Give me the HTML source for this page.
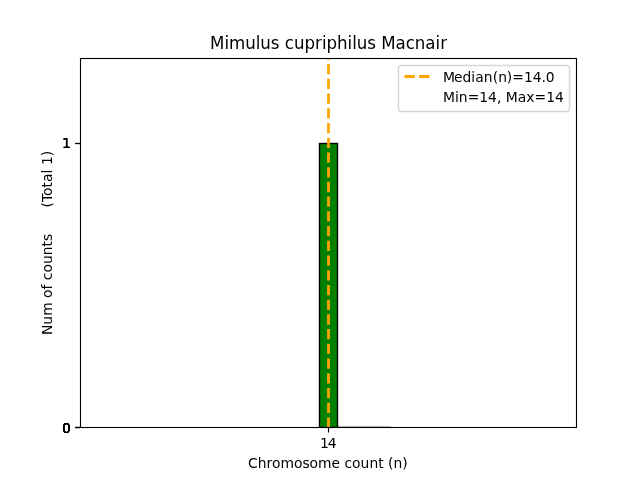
<!DOCTYPE html>
<html>
<head>
<meta charset="utf-8">
<title>Mimulus cupriphilus Macnair</title>
<style>
html,body{margin:0;padding:0;background:#fff;}
body{width:640px;height:480px;overflow:hidden;}
svg{display:block;}
text{font-family:"DejaVu Sans","Liberation Sans",sans-serif;fill:#000;white-space:pre;}
.t10{font-size:13.889px;}
.t12{font-size:16.667px;}
</style>
</head>
<body>
<svg width="640" height="480" viewBox="0 0 640 480">
<rect x="0" y="0" width="640" height="480" fill="#ffffff"/>
<!-- axes background -->
<rect x="80" y="58" width="496" height="369" fill="#ffffff"/>
<!-- bar -->
<defs><clipPath id="axclip"><rect x="80" y="58" width="496.5" height="369.5"/></clipPath></defs>
<rect clip-path="url(#axclip)" x="319.5" y="143.5" width="18" height="284" fill="#008000" stroke="#000000" stroke-width="1.389"/>
<!-- faint zero-height line -->
<rect clip-path="url(#axclip)" x="338" y="426" width="53" height="1" fill="#000" fill-opacity="0.27"/>
<!-- x tick -->
<line x1="328.5" y1="427.5" x2="328.5" y2="432.5" stroke="#000" stroke-width="1.111"/>
<text class="t10" x="319.94 327.815" y="448.48">14</text>
<text class="t10" x="248 257.75 266.5 272 280.5 294 302.5 309.375 317.875 331.375 340.125 344.5 351.875 360.375 369.375 378.125 383.625 388 393.5 402.25" y="468.47">Chromosome count (n)</text>
<!-- y ticks -->
<line x1="80" y1="427.5" x2="75.14" y2="427.5" stroke="#000" stroke-width="1.111"/>
<line x1="80" y1="427.5" x2="75.14" y2="427.5" stroke="#000" stroke-width="1.111"/>
<line x1="80" y1="427.5" x2="75.14" y2="427.5" stroke="#000" stroke-width="1.111"/>
<line x1="80" y1="427.5" x2="75.14" y2="427.5" stroke="#000" stroke-width="1.111"/>
<line x1="80" y1="427.5" x2="75.14" y2="427.5" stroke="#000" stroke-width="1.111"/>
<line x1="80" y1="143.5" x2="75.14" y2="143.5" stroke="#000" stroke-width="1.111"/>
<line x1="80" y1="143.5" x2="75.14" y2="143.5" stroke="#000" stroke-width="1.111"/>
<line x1="80" y1="143.5" x2="75.14" y2="143.5" stroke="#000" stroke-width="1.111"/>
<text class="t10" x="61.9" y="433.48">0</text>
<text class="t10" x="61.9" y="433.48">0</text>
<text class="t10" x="61.9" y="433.48">0</text>
<text class="t10" x="61.9" y="433.48">0</text>
<text class="t10" x="61.9" y="433.48">0</text>
<text class="t10" x="61.9" y="148.17">1</text>
<text class="t10" x="61.9" y="148.17">1</text>
<text class="t10" x="61.9" y="148.17">1</text>
<text class="t10" xml:space="preserve" x="0 10.375 19.25 32.625 37 45.5 50.5 54.875 62.5 71 79.75 88.5 94 101.125 105.5 109.875 114.25 118.625 123 127.5 133 139 147.5 153 161.625 165.5 170 178.75" y="0" transform="translate(52.0 335.085) rotate(-90)">Num of counts      (Total 1)</text>
<!-- median line -->
<path clip-path="url(#axclip)" d="M328.5 427.7 L328.5 58" fill="none" stroke="#ffa500" stroke-width="2.778" stroke-dasharray="10.278 4.444"/>
<!-- spines -->
<line x1="80.5" y1="427.5" x2="80.5" y2="58.5" stroke="#000" stroke-width="1.111" stroke-linecap="square"/>
<line x1="576.5" y1="427.5" x2="576.5" y2="58.5" stroke="#000" stroke-width="1.111" stroke-linecap="square"/>
<rect x="79.944" y="426.944" width="497.111" height="1.111" fill="#000"/>
<rect x="79.944" y="57.944" width="497.111" height="1.111" fill="#000"/>
<!-- title -->
<text class="t12" x="210.05 224.425 229.05 245.3 255.8 260.175 270.675 279.675 284.675 294.05 304.55 315.05 321.925 326.55 337.05 347.55 352.175 356.8 367.3 376.05 381.3 395.425 405.8 414.675 425.175 435.55 440.175" y="0" transform="translate(0 49.2) scale(1 1.08)">Mimulus cupriphilus Macnair</text>
<!-- legend -->
<rect x="398.5" y="65.5" width="171" height="46" rx="2.78" ry="2.78" fill="#ffffff" fill-opacity="0.8" stroke="#cccccc" stroke-opacity="0.8" stroke-width="1.389"/>
<path d="M404.5 76.5 L432.28 76.5" fill="none" stroke="#ffa500" stroke-width="2.778" stroke-dasharray="10.278 4.444"/>
<text class="t10" x="443 454 462.5 471.125 475.25 483.625 492.625 498.125 506.625 512.25 523.875 532.75 541.5 545.625" y="81.65">Median(n)=14.0</text>
<text class="t10" x="443 455 458.625 467.625 479.25 487.875 496.875 501.25 505.625 517.625 526.25 534.5 546.125 555" y="102.04">Min=14, Max=14</text>
</svg>
</body>
</html>
